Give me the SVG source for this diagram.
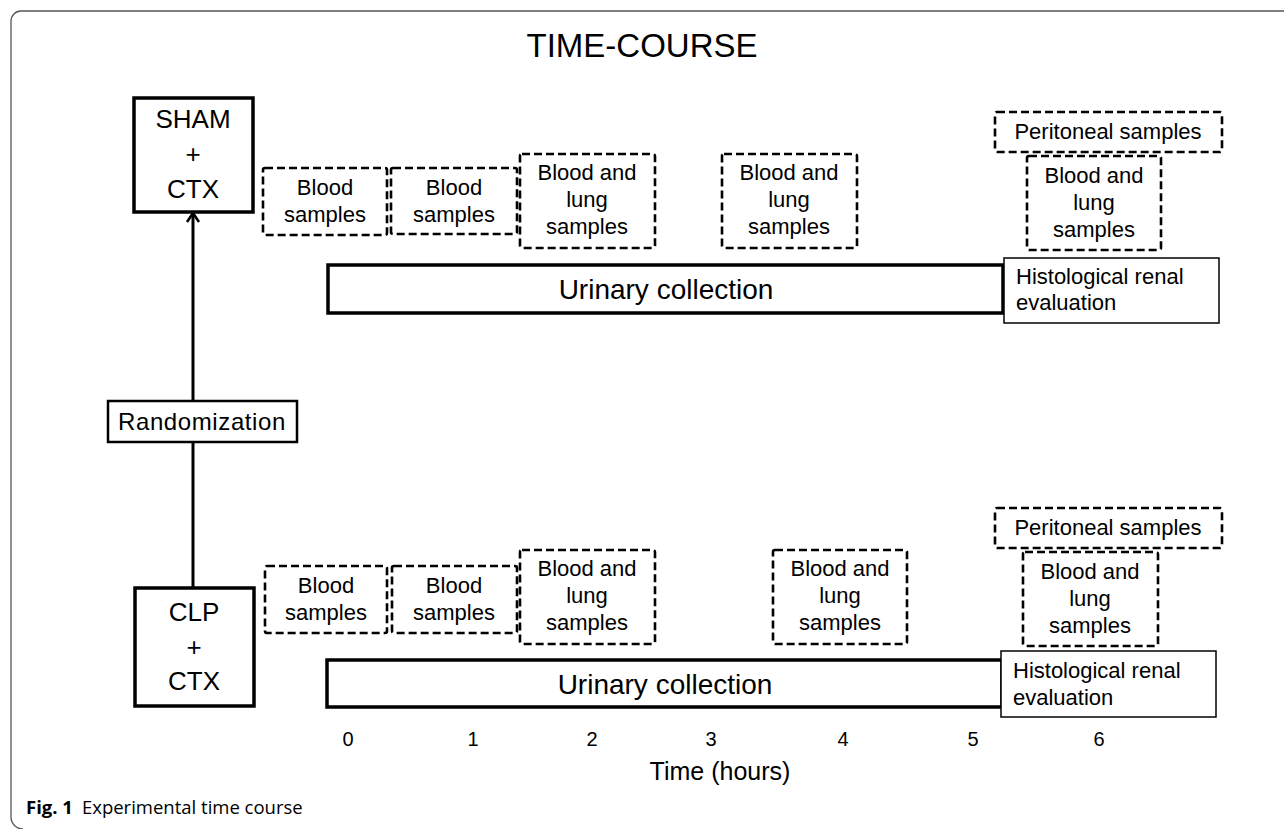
<svg xmlns="http://www.w3.org/2000/svg" width="1284" height="829" viewBox="0 0 1284 829">
<defs>
<style>
text{font-family:"Liberation Sans",Arial,sans-serif;fill:#000;}
.t{font-size:22px;text-anchor:middle;}
.big{font-size:26px;text-anchor:middle;}
.dash{fill:#fff;stroke:#000;stroke-width:2.6;stroke-dasharray:8 4;}
.solid{fill:#fff;stroke:#000;stroke-width:3.5;}
.thin{fill:#fff;stroke:#000;stroke-width:1.5;}
.ax{font-size:20px;text-anchor:middle;}
</style>
<marker id="arr" markerWidth="16" markerHeight="16" refX="13" refY="8" orient="auto" markerUnits="userSpaceOnUse" viewBox="0 0 16 16">
<path d="M4,2 L13,8 L4,14" fill="none" stroke="#000" stroke-width="2.6"/>
</marker>
</defs>
<rect width="1284" height="829" fill="#fff"/>
<path d="M1284,11 H21 A10,10 0 0 0 11,21 V817 A12,12 0 0 0 23,829" fill="none" stroke="#555" stroke-width="1.3"/>
<text x="642" y="57" style="font-size:33px;text-anchor:middle;">TIME-COURSE</text>

<g id="connectors">
<line x1="193" y1="401" x2="193" y2="213" stroke="#000" stroke-width="3" marker-end="url(#arr)"/>
<line x1="193" y1="442" x2="193" y2="588" stroke="#000" stroke-width="3"/>
</g>

<g id="sham">
<rect class="solid" x="134" y="98" width="119" height="114"/>
<text class="big" x="193" y="128">SHAM</text>
<text class="big" x="193" y="163">+</text>
<text class="big" x="193" y="198">CTX</text>
</g>
<g id="randomization">
<rect x="108" y="401" width="189" height="41" fill="#fff" stroke="#000" stroke-width="2.5"/>
<text x="202" y="430" style="font-size:24px;text-anchor:middle;letter-spacing:0.6px;">Randomization</text>
</g>
<g id="clp">
<rect class="solid" x="135" y="588" width="119" height="118"/>
<text class="big" x="194" y="621">CLP</text>
<text class="big" x="194" y="656">+</text>
<text class="big" x="194" y="690">CTX</text>
</g>

<g id="sham-blood-0">
<rect class="dash" x="263" y="168" width="124" height="67" rx="2"/>
<text class="t" x="325" y="195">Blood</text>
<text class="t" x="325" y="222">samples</text>
</g>
<g id="sham-blood-1">
<rect class="dash" x="391" y="168" width="126" height="66" rx="2"/>
<text class="t" x="454" y="195">Blood</text>
<text class="t" x="454" y="222">samples</text>
</g>
<g id="sham-bl-2">
<rect class="dash" x="520" y="154" width="135" height="94" rx="2"/>
<text class="t" x="587" y="180">Blood and</text>
<text class="t" x="587" y="207">lung</text>
<text class="t" x="587" y="234">samples</text>
</g>
<g id="sham-bl-3">
<rect class="dash" x="722" y="154" width="135" height="94" rx="2"/>
<text class="t" x="789" y="180">Blood and</text>
<text class="t" x="789" y="207">lung</text>
<text class="t" x="789" y="234">samples</text>
</g>
<g id="sham-peritoneal">
<rect class="dash" x="995" y="112" width="227" height="40" rx="2"/>
<text class="t" x="1108" y="139">Peritoneal samples</text>
</g>
<g id="sham-bl-6">
<rect class="dash" x="1027" y="156" width="134" height="94" rx="2"/>
<text class="t" x="1094" y="183">Blood and</text>
<text class="t" x="1094" y="210">lung</text>
<text class="t" x="1094" y="237">samples</text>
</g>
<g id="sham-urinary">
<rect class="solid" x="328" y="265" width="675" height="48"/>
<text x="666" y="299" style="font-size:28px;text-anchor:middle;">Urinary collection</text>
</g>
<g id="sham-histo">
<rect class="thin" x="1004" y="258" width="215" height="65"/>
<text x="1016" y="284" style="font-size:22px;">Histological renal</text>
<text x="1016" y="310" style="font-size:22px;">evaluation</text>
</g>

<g id="clp-blood-0">
<rect class="dash" x="265" y="566" width="122" height="67" rx="2"/>
<text class="t" x="326" y="593">Blood</text>
<text class="t" x="326" y="620">samples</text>
</g>
<g id="clp-blood-1">
<rect class="dash" x="392" y="566" width="125" height="67" rx="2"/>
<text class="t" x="454" y="593">Blood</text>
<text class="t" x="454" y="620">samples</text>
</g>
<g id="clp-bl-2">
<rect class="dash" x="520" y="550" width="135" height="94" rx="2"/>
<text class="t" x="587" y="576">Blood and</text>
<text class="t" x="587" y="603">lung</text>
<text class="t" x="587" y="630">samples</text>
</g>
<g id="clp-bl-4">
<rect class="dash" x="773" y="550" width="134" height="94" rx="2"/>
<text class="t" x="840" y="576">Blood and</text>
<text class="t" x="840" y="603">lung</text>
<text class="t" x="840" y="630">samples</text>
</g>
<g id="clp-peritoneal">
<rect class="dash" x="995" y="508" width="227" height="40" rx="2"/>
<text class="t" x="1108" y="535">Peritoneal samples</text>
</g>
<g id="clp-bl-6">
<rect class="dash" x="1023" y="552" width="135" height="94" rx="2"/>
<text class="t" x="1090" y="579">Blood and</text>
<text class="t" x="1090" y="606">lung</text>
<text class="t" x="1090" y="633">samples</text>
</g>
<g id="clp-urinary">
<rect class="solid" x="327" y="660" width="675" height="47"/>
<text x="665" y="694" style="font-size:28px;text-anchor:middle;">Urinary collection</text>
</g>
<g id="clp-histo">
<rect class="thin" x="1001" y="651" width="215" height="66"/>
<text x="1013" y="678" style="font-size:22px;">Histological renal</text>
<text x="1013" y="705" style="font-size:22px;">evaluation</text>
</g>

<g id="axis">
<text class="ax" x="348" y="746">0</text>
<text class="ax" x="473" y="746">1</text>
<text class="ax" x="592" y="746">2</text>
<text class="ax" x="711" y="746">3</text>
<text class="ax" x="843" y="746">4</text>
<text class="ax" x="973" y="746">5</text>
<text class="ax" x="1099" y="746">6</text>
<text x="720" y="780" style="font-size:25px;text-anchor:middle;">Time (hours)</text>
</g>
<text x="26" y="814" style="font-family:'Open Sans','Noto Sans',sans-serif;font-size:18.5px;"><tspan font-weight="bold">Fig. 1</tspan><tspan dx="9">Experimental time course</tspan></text>
</svg>
